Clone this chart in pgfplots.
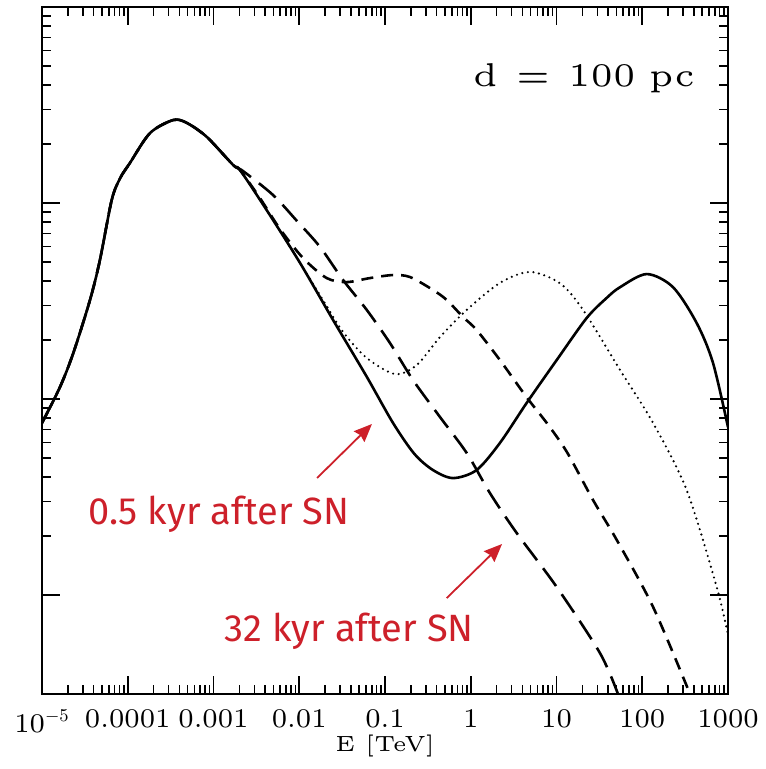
\documentclass[border=0pt]{standalone}
\usepackage{fontspec}
\usepackage{pgfplots}
\pgfplotsset{compat=1.18}
\usetikzlibrary{arrows.meta}
\newfontfamily\firasans{Fira Sans}
\newfontfamily\lmseven{lmroman7-regular.otf}
\newfontfamily\lmfive{lmroman5-regular.otf}
\definecolor{annred}{RGB}{205,32,42}

\begin{document}
\begin{tikzpicture}
\begin{axis}[
  scale only axis, width=343pt, height=343.5pt,
  xmode=log, ymode=log,
  xmin=1e-5, xmax=1000, ymin=0.3126, ymax=1000,
  xtick={1e-5,1e-4,1e-3,1e-2,1e-1,1,10,100,1000},
  xticklabels={10$^{-5}$,0.0001,0.001,0.01,0.1,1,10,100,1000},
  ytick={1,10,100,1000}, yticklabels={},
  tick align=inside,
  major tick length=8.8pt, minor tick length=4.5pt,
  axis line style={line width=1pt},
  every tick/.style={line width=0.8pt, black},
  xticklabel style={font=\fontsize{13.5}{16}\selectfont\lmseven, yshift=-4.5pt},
  xlabel={E [TeV]},
  xlabel style={font=\fontsize{11}{13}\selectfont\lmfive, inner sep=0pt, at={(axis description cs:0.5,0)}, anchor=base, yshift=-28.5pt},
]
% 0.5 kyr (solid)
\addplot[black, line width=1.3pt, smooth] coordinates {
(1e-5,7.55) (1.62e-5,11.5) (2.32e-5,17.18) (3.63e-5,32.0) (4.74e-5,51.2)
(6.50e-5,103.5) (8.13e-5,133.6) (1.06e-4,160) (1.82e-4,227.5) (3.39e-4,265)
(4.90e-4,256) (8.39e-4,217) (1.70e-3,156)
(2.04e-3,147.2) (4.17e-3,92.0) (1.023e-2,49.4) (2.48e-2,25.3) (6.12e-2,13.0)
(0.124,7.55) (0.22,5.25) (0.363,4.34) (0.621,3.95) (1.17,4.34) (2.19,5.97)
(4.49,9.55) (10.05,15.8) (22.5,25.9) (38.5,32.8) (55.1,37.2) (112.7,43.4) (228.6,37.2)
(431.5,24.4) (668,15.3) (1000,7.19)
};
% dotted
\addplot[black, line width=1.2pt, line cap=round, dash pattern=on 0pt off 2.8pt, smooth] coordinates {
(1e-5,7.55) (1.62e-5,11.5) (2.32e-5,17.18) (3.63e-5,32.0) (4.74e-5,51.2)
(6.50e-5,103.5) (8.13e-5,133.6) (1.06e-4,160) (1.82e-4,227.5) (3.39e-4,265)
(4.90e-4,256) (8.39e-4,217) (1.70e-3,156)
(2.04e-3,147.2) (4.17e-3,92.0) (1.023e-2,49.4) (1.89e-2,32.0) (3.24e-2,22.0)
(6.12e-2,16.2) (0.131,13.4) (0.234,14.9) (0.438,20.7) (0.898,28.5) (2.19,39.1)
(4.91,44.5) (11.0,38.9) (20.4,28.5) (55.1,14.06) (133.7,7.55) (329.6,3.43)
(738,1.099) (1000,0.625)
};
% short dashed
\addplot[black, line width=1.3pt, dash pattern=on 6pt off 4pt, smooth] coordinates {
(1e-5,7.55) (1.62e-5,11.5) (2.32e-5,17.18) (3.63e-5,32.0) (4.74e-5,51.2)
(6.50e-5,103.5) (8.13e-5,133.6) (1.06e-4,160) (1.82e-4,227.5) (3.39e-4,265)
(4.90e-4,256) (8.39e-4,217) (1.70e-3,156)
(2.04e-3,147.2) (3.48e-3,106) (5.96e-3,73.7) (1.107e-2,52.4) (2.09e-2,41.4)
(3.57e-2,39.5) (6.68e-2,41.4) (0.124,42.9) (0.196,41.9) (0.363,36.0) (0.525,32.0)
(0.813,26.2) (1.17,22.5) (2.19,15.8) (4.49,10.2) (7.69,7.55) (13.2,5.37)
(26.7,3.05) (50.4,1.91) (133.7,0.869) (360.6,0.3126)
};
% long dashed (32 kyr)
\addplot[black, line width=1.3pt, dash pattern=on 11pt off 5pt, smooth] coordinates {
(1e-5,7.55) (1.62e-5,11.5) (2.32e-5,17.18) (3.63e-5,32.0) (4.74e-5,51.2)
(6.50e-5,103.5) (8.13e-5,133.6) (1.06e-4,160) (1.82e-4,227.5) (3.39e-4,265)
(4.90e-4,256) (8.39e-4,217) (1.70e-3,156)
(2.21e-3,145.6) (4.94e-3,109.9) (9.42e-3,80.9) (1.746e-2,59.7) (3.24e-2,40.5)
(6.12e-2,28.5) (0.1143,19.3) (0.212,12.5) (0.438,8.09) (0.898,5.30) (1.675,3.31)
(3.44,2.07) (10.05,1.099) (32.1,0.506) (52.1,0.3126)
};
\node[anchor=base west, inner sep=0pt, font=\fontsize{16.5}{19}\selectfont\lmfive] at (rel axis cs:0.628,0.8836) {d\hspace{0.55em}=\hspace{0.55em}100\hspace{0.4em}pc};
\draw[annred, line width=0.9pt, -{Stealth[length=9pt,width=7.5pt,inset=1pt]}]
  (rel axis cs:0.401,0.3144) -- (rel axis cs:0.481,0.393);
\draw[annred, line width=0.9pt, -{Stealth[length=9pt,width=7.5pt,inset=1pt]}]
  (rel axis cs:0.590,0.1397) -- (rel axis cs:0.6706,0.2183);
\node[annred, anchor=base, font=\fontsize{19}{22}\selectfont\firasans] at (rel axis cs:0.258,0.246) {0.5 kyr after SN};
\node[annred, anchor=base, font=\fontsize{19}{22}\selectfont\firasans] at (rel axis cs:0.448,0.076) {32 kyr after SN};
\end{axis}
\pgfresetboundingbox
\path[use as bounding box] (-21pt,-37.5pt) rectangle (361.5pt,347pt);
\end{tikzpicture}
\end{document}
